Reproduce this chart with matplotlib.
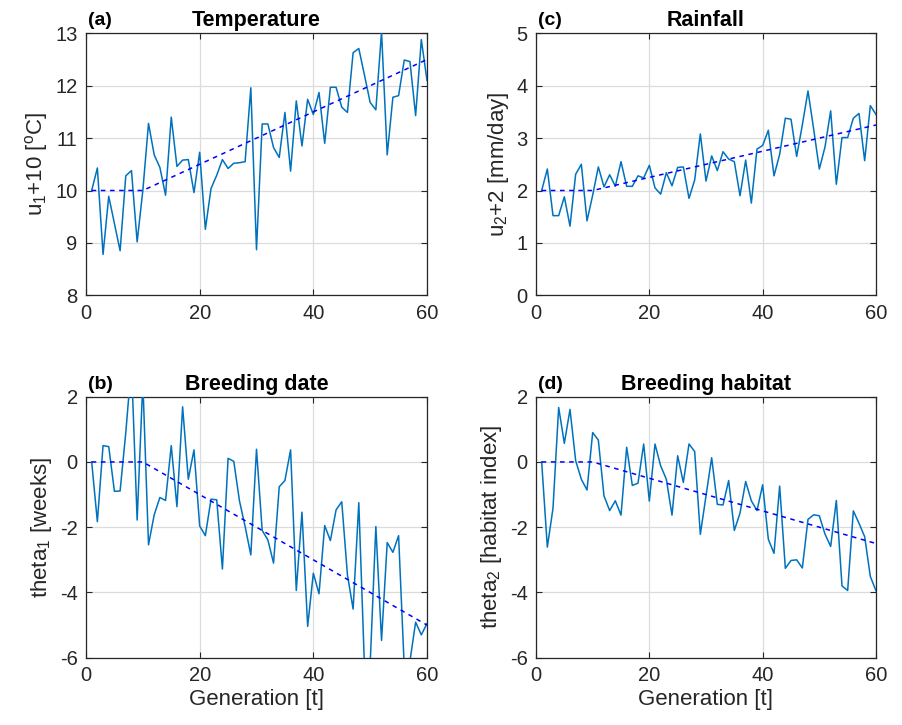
import matplotlib
matplotlib.use("Agg")
import matplotlib.pyplot as plt
import numpy as np

plt.rcParams['font.family'] = ['Liberation Sans', 'DejaVu Sans']
plt.rcParams['mathtext.default'] = 'regular'
plt.rcParams['axes.unicode_minus'] = False

t = np.arange(1, 61)

temperature = [10.0, 10.43, 8.78, 9.89, 9.37, 8.85, 10.28, 10.38, 9.02, 10.0,
               11.28, 10.68, 10.44, 9.91, 11.40, 10.46, 10.58, 10.59, 9.96, 10.73,
               9.26, 10.04, 10.29, 10.59, 10.42, 10.52, 10.53, 10.55, 11.96, 8.87,
               11.27, 11.27, 10.82, 10.63, 11.49, 10.37, 11.71, 10.85, 11.74, 11.45,
               11.87, 10.90, 11.97, 11.97, 11.59, 11.49, 12.63, 12.71, 12.20, 11.68,
               11.54, 13.03, 10.68, 11.78, 11.81, 12.49, 12.46, 11.43, 12.88, 12.10]

rainfall = [2.0, 2.41, 1.52, 1.52, 1.88, 1.32, 2.31, 2.50, 1.42, 1.91,
            2.45, 2.07, 2.30, 2.08, 2.55, 2.08, 2.08, 2.28, 2.24, 2.48,
            2.05, 1.93, 2.34, 2.09, 2.44, 2.45, 1.85, 2.20, 3.08, 2.18,
            2.66, 2.38, 2.74, 2.60, 2.55, 1.90, 2.58, 1.76, 2.79, 2.86,
            3.15, 2.28, 2.69, 3.38, 3.36, 2.65, 3.25, 3.90, 3.17, 2.41,
            2.83, 3.52, 2.12, 3.01, 3.01, 3.38, 3.47, 2.57, 3.62, 3.45]

breeding_date = [0.0, -1.83, 0.50, 0.47, -0.90, -0.89, 0.9, 3.0, -1.78, 2.45,
                 -2.54, -1.62, -1.09, -1.18, 0.50, -1.37, 1.69, -0.53, 0.37, -1.96,
                 -2.26, -1.14, -1.16, -3.28, 0.11, 0.02, -1.19, -1.98, -2.85, 0.39,
                 -2.10, -2.39, -3.10, -0.76, -0.57, 0.37, -3.94, -1.54, -5.04, -3.41,
                 -4.04, -1.95, -2.41, -1.47, -1.22, -3.46, -4.51, -1.25, -6.3, -6.2,
                 -1.98, -5.47, -2.47, -2.77, -2.26, -6.3, -6.1, -4.91, -5.30, -4.95]

breeding_habitat = [0.0, -2.61, -1.42, 1.67, 0.57, 1.61, 0.04, -0.53, -0.86, 0.90,
                    0.67, -1.04, -1.49, -1.19, -1.63, 0.45, -0.72, -0.65, 0.55, -1.20,
                    0.55, -0.12, -0.53, -1.63, 0.19, -0.63, 0.55, 0.32, -2.22, -1.04,
                    0.13, -1.30, -1.32, -0.57, -2.10, -1.57, -0.60, -1.19, -1.49, -0.70,
                    -2.37, -2.80, -0.74, -3.26, -3.02, -3.00, -3.25, -1.76, -1.62, -1.65,
                    -2.21, -2.59, -1.18, -3.80, -3.94, -1.50, -1.88, -2.29, -3.51, -3.95]

trend_t = [1, 10, 60]
trend_temperature = [10, 10, 12.5]
trend_rainfall = [2, 2, 3.25]
trend_date = [0, 0, -5]
trend_habitat = [0, 0, -2.5]

W, H = 903, 725
fig = plt.figure(figsize=(W / 100, H / 100), dpi=100)

def ax_at(x0, y0, x1, y1):
    return fig.add_axes([x0 / W, 1 - y1 / H, (x1 - x0) / W, (y1 - y0) / H])

panels = [
    dict(box=(86, 33.3, 427, 295.3), y=temperature, tr=trend_temperature, ylim=(8, 13),
         yticks=[8, 9, 10, 11, 12, 13], ylabel='u$_1$+10 [$^o$C]', title='Temperature',
         tag='(a)', xlabel=None),
    dict(box=(536, 33.3, 876, 295.3), y=rainfall, tr=trend_rainfall, ylim=(0, 5),
         yticks=[0, 1, 2, 3, 4, 5], ylabel='u$_2$+2 [mm/day]', title='Rainfall',
         tag='(c)', xlabel=None),
    dict(box=(86, 396.7, 427, 657.7), y=breeding_date, tr=trend_date, ylim=(-6, 2),
         yticks=[-6, -4, -2, 0, 2], ylabel='theta$_1$ [weeks]', title='Breeding date',
         tag='(b)', xlabel='Generation [t]'),
    dict(box=(536, 396.7, 876, 657.7), y=breeding_habitat, tr=trend_habitat, ylim=(-6, 2),
         yticks=[-6, -4, -2, 0, 2], ylabel='theta$_2$ [habitat index]',
         title='Breeding habitat', tag='(d)', xlabel='Generation [t]'),
]

dark = '#262626'
for p in panels:
    ax = ax_at(*p['box'])
    ax.plot(t, p['y'], color='#0072BD', lw=1.1, zorder=3)
    ax.plot(trend_t, p['tr'], color='#0000FF', lw=1.1, ls=(0, (3, 3)), zorder=4)
    ax.set_xlim(0, 60)
    ax.set_ylim(*p['ylim'])
    ax.set_xticks([0, 20, 40, 60])
    ax.set_yticks(p['yticks'])
    ax.grid(True, color='#dcdcdc', lw=0.9)
    ax.set_axisbelow(True)
    ax.tick_params(direction='in', top=True, right=True, labelsize=14.5,
                   colors=dark, length=4, width=0.8, pad=6)
    for s in ax.spines.values():
        s.set_color(dark)
        s.set_linewidth(0.9)
    ax.set_ylabel(p['ylabel'], fontsize=16, color=dark, labelpad=4)
    if p['xlabel']:
        ax.set_xlabel(p['xlabel'], fontsize=16, color=dark, labelpad=3)
    ax.set_title(p['title'], fontsize=15.5, fontweight='bold', pad=5)
    ax.text(0.005, 1.015, p['tag'], transform=ax.transAxes, fontsize=14,
            fontweight='bold', ha='left', va='bottom')

fig.savefig('out.png', dpi=100)
